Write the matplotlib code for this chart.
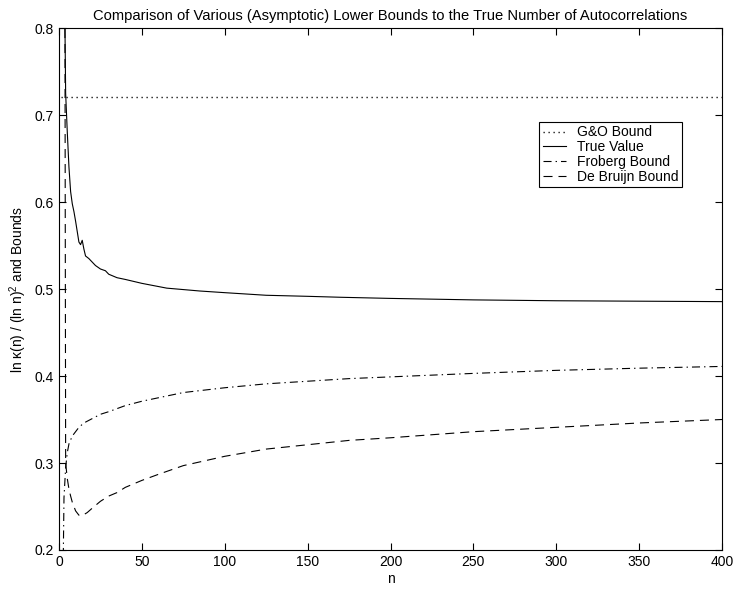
import matplotlib
matplotlib.use('Agg')
import matplotlib.pyplot as plt

plt.rcParams['font.family'] = ['Liberation Sans', 'DejaVu Sans']
plt.rcParams['mathtext.fontset'] = 'custom'
plt.rcParams['mathtext.rm'] = 'Liberation Sans'
plt.rcParams['lines.scale_dashes'] = False

# values
go_n = [1, 400]
go_val = [0.721, 0.721]

true_n = [3, 4, 5, 6, 7, 8, 9, 10, 11, 12, 13, 14, 15, 16, 18, 20, 22, 25, 28,
          30, 35, 40, 50, 65, 85, 100, 125, 150, 170, 200, 250, 300, 350, 400]
true_val = [0.91, 0.725, 0.68, 0.64, 0.612, 0.598, 0.589, 0.578, 0.566, 0.554,
            0.551, 0.556, 0.546, 0.538, 0.535, 0.531, 0.527, 0.523, 0.521,
            0.517, 0.513, 0.511, 0.5065, 0.501, 0.4977, 0.4958, 0.4928,
            0.4916, 0.4905, 0.4892, 0.4875, 0.4865, 0.486, 0.4855]

froberg_n = [2, 3, 4, 5, 6, 8, 10, 12, 15, 20, 25, 30, 40, 50, 75, 100, 125,
             150, 175, 200, 250, 300, 350, 400]
froberg_val = [0.10, 0.26, 0.295, 0.312, 0.322, 0.331, 0.336, 0.341, 0.346,
               0.351, 0.356, 0.359, 0.366, 0.371, 0.381, 0.3865, 0.391, 0.394,
               0.397, 0.399, 0.403, 0.4065, 0.409, 0.411]

debruijn_n = [3, 4, 5, 6, 7, 8, 10, 12, 14, 17, 20, 25, 30, 35, 40, 50, 60,
              75, 100, 125, 150, 175, 200, 250, 300, 350, 400]
debruijn_val = [1.5, 0.30, 0.282, 0.27, 0.262, 0.255, 0.245, 0.240, 0.2395,
                0.243, 0.248, 0.256, 0.262, 0.266, 0.272, 0.280, 0.287, 0.297,
                0.3077, 0.316, 0.321, 0.326, 0.329, 0.336, 0.341, 0.346, 0.350]

fig = plt.figure(figsize=(7.34, 5.9), dpi=100)
ax = fig.add_axes([0.0804, 0.0678, 0.9033, 0.8847])

ax.plot(go_n, go_val, color='black', lw=1.0, dashes=(0.9, 2.7), label='G&O Bound')
ax.plot(true_n, true_val, color='black', lw=0.8, label='True Value')
ax.plot(froberg_n, froberg_val, color='black', lw=0.8, dashes=(5.8, 2.9, 1.0, 2.9),
        label='Froberg Bound')
ax.plot(debruijn_n, debruijn_val, color='black', lw=0.8, dashes=(6.5, 4.3),
        label='De Bruijn Bound')

ax.set_xlim(0, 400)
ax.set_ylim(0.2, 0.8)
ax.set_xticks(range(0, 401, 50))
ax.set_yticks([0.2, 0.3, 0.4, 0.5, 0.6, 0.7, 0.8])
ax.set_yticklabels(['0.2', '0.3', '0.4', '0.5', '0.6', '0.7', '0.8'])
ax.tick_params(direction='in', top=True, right=True, length=5, width=0.8,
               labelsize=10)
for s in ax.spines.values():
    s.set_linewidth(0.8)

ax.set_xlabel('n', fontsize=10, labelpad=2)
ax.set_ylabel(r'ln κ(n) / (ln n)$^2$ and Bounds', fontsize=10)
ax.set_title('Comparison of Various (Asymptotic) Lower Bounds to the True Number of Autocorrelations',
             fontsize=10.6, pad=6)

leg = ax.legend(loc='upper right', bbox_to_anchor=(0.94, 0.82), fontsize=10,
                fancybox=False, framealpha=1, edgecolor='black', handlelength=1.7,
                handletextpad=0.8, borderaxespad=0, labelspacing=0.05,
                borderpad=0.25)
leg.get_frame().set_linewidth(0.8)

fig.savefig('out.png', dpi=100)
